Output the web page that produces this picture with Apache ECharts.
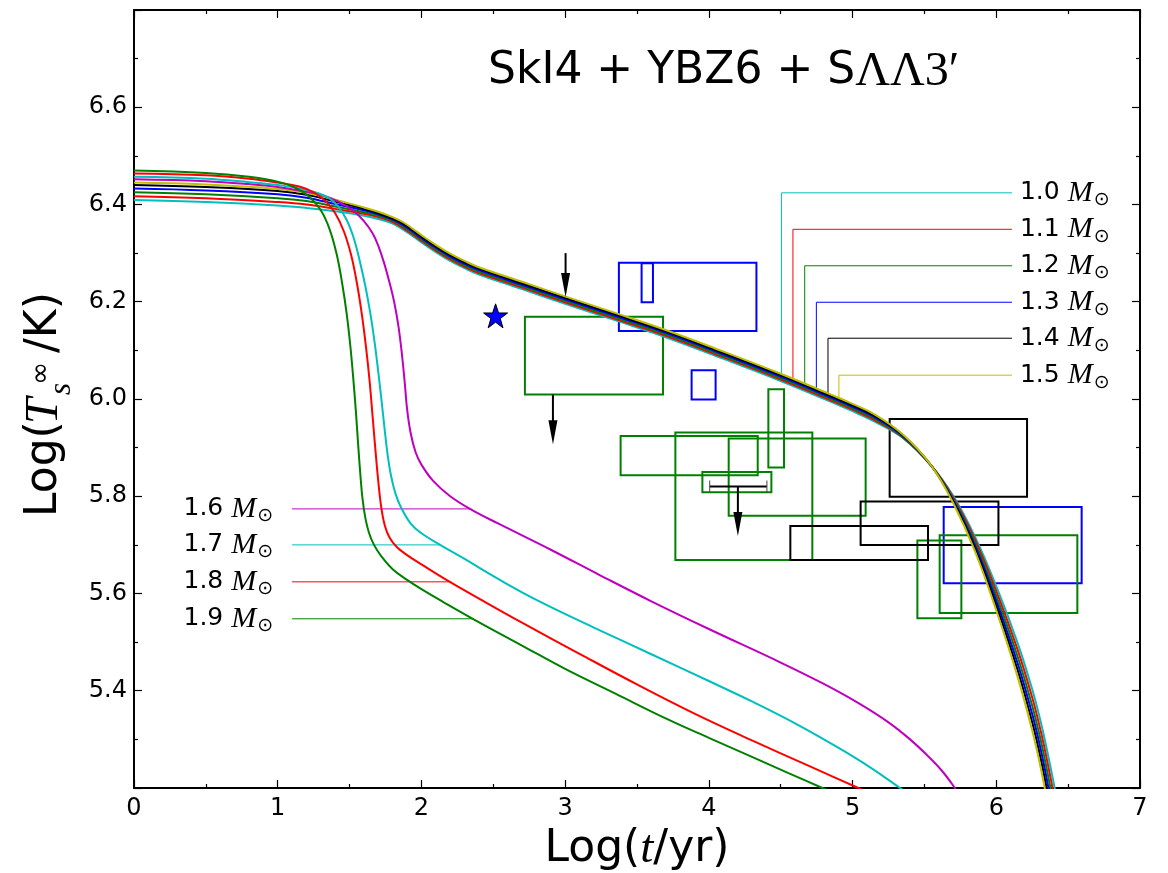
<!DOCTYPE html>
<html>
<head>
<meta charset="utf-8">
<title>SkI4 + YBZ6 + SΛΛ3′ cooling curves</title>
<style>
  html, body { margin: 0; padding: 0; background: #fff; }
  #chart { width: 1168px; height: 873px; }
</style>
</head>
<body>
<div id="chart"></div>
<script src="https://cdn.jsdelivr.net/npm/echarts@6.0.0/dist/echarts.min.js"></script>
<script>
// cooling curves, [log t, log Ts]
var m10 = [[0, 6.409], [0.5, 6.405], [1.0, 6.398], [1.2, 6.393], [1.4, 6.386], [1.6, 6.377], [1.7, 6.370], [1.8, 6.361], [1.87, 6.349], [1.94, 6.335], [2.0, 6.322], [2.1, 6.302], [2.2, 6.284], [2.3, 6.269], [2.4, 6.256], [2.7, 6.226], [3.0, 6.196], [3.4, 6.157], [3.7, 6.127], [4.0, 6.094], [4.5, 6.037], [4.85, 5.994], [5.0, 5.975], [5.15, 5.954], [5.35, 5.920], [5.55, 5.862], [5.7, 5.801], [5.85, 5.718], [6.0, 5.615], [6.15, 5.497], [6.25, 5.403], [6.31, 5.335], [6.36, 5.268], [6.45, 5.135]];
var m11 = [[0, 6.417], [0.5, 6.413], [1.0, 6.405], [1.2, 6.400], [1.4, 6.391], [1.6, 6.381], [1.7, 6.374], [1.8, 6.364], [1.87, 6.352], [1.94, 6.338], [2.0, 6.325], [2.1, 6.305], [2.2, 6.287], [2.3, 6.272], [2.4, 6.259], [2.7, 6.229], [3.0, 6.199], [3.4, 6.160], [3.7, 6.130], [4.0, 6.097], [4.5, 6.040], [4.85, 5.997], [5.0, 5.978], [5.15, 5.957], [5.35, 5.921], [5.55, 5.862], [5.7, 5.798], [5.85, 5.712], [6.0, 5.605], [6.15, 5.483], [6.25, 5.386], [6.31, 5.316], [6.36, 5.247], [6.45, 5.110]];
var m12 = [[0, 6.425], [0.5, 6.421], [1.0, 6.413], [1.2, 6.407], [1.4, 6.396], [1.6, 6.384], [1.7, 6.377], [1.8, 6.367], [1.87, 6.355], [1.94, 6.341], [2.0, 6.328], [2.1, 6.308], [2.2, 6.290], [2.3, 6.275], [2.4, 6.262], [2.7, 6.232], [3.0, 6.202], [3.4, 6.163], [3.7, 6.133], [4.0, 6.100], [4.5, 6.043], [4.85, 6.000], [5.0, 5.981], [5.15, 5.960], [5.35, 5.922], [5.55, 5.862], [5.7, 5.795], [5.85, 5.706], [6.0, 5.595], [6.15, 5.469], [6.25, 5.369], [6.31, 5.297], [6.36, 5.226], [6.45, 5.085]];
var m13 = [[0, 6.433], [0.5, 6.429], [1.0, 6.421], [1.2, 6.414], [1.4, 6.401], [1.6, 6.388], [1.7, 6.380], [1.8, 6.369], [1.87, 6.358], [1.94, 6.344], [2.0, 6.331], [2.1, 6.311], [2.2, 6.293], [2.3, 6.278], [2.4, 6.265], [2.7, 6.235], [3.0, 6.205], [3.4, 6.166], [3.7, 6.136], [4.0, 6.103], [4.5, 6.046], [4.85, 6.003], [5.0, 5.984], [5.15, 5.963], [5.35, 5.924], [5.55, 5.862], [5.7, 5.792], [5.85, 5.700], [6.0, 5.585], [6.15, 5.455], [6.25, 5.352], [6.31, 5.278], [6.36, 5.205], [6.45, 5.060]];
var m14 = [[0, 6.440], [0.5, 6.436], [1.0, 6.428], [1.2, 6.420], [1.4, 6.406], [1.6, 6.391], [1.7, 6.382], [1.8, 6.371], [1.87, 6.361], [1.94, 6.347], [2.0, 6.334], [2.1, 6.314], [2.2, 6.296], [2.3, 6.281], [2.4, 6.268], [2.7, 6.238], [3.0, 6.208], [3.4, 6.169], [3.7, 6.139], [4.0, 6.106], [4.5, 6.049], [4.85, 6.006], [5.0, 5.987], [5.15, 5.966], [5.35, 5.926], [5.55, 5.862], [5.7, 5.789], [5.85, 5.694], [6.0, 5.575], [6.15, 5.441], [6.25, 5.335], [6.31, 5.259], [6.36, 5.184], [6.45, 5.035]];
var m15 = [[0, 6.445], [0.5, 6.441], [1.0, 6.432], [1.2, 6.424], [1.4, 6.410], [1.6, 6.394], [1.7, 6.385], [1.8, 6.374], [1.87, 6.364], [1.94, 6.350], [2.0, 6.337], [2.1, 6.317], [2.2, 6.299], [2.3, 6.284], [2.4, 6.271], [2.7, 6.241], [3.0, 6.211], [3.4, 6.172], [3.7, 6.142], [4.0, 6.109], [4.5, 6.052], [4.85, 6.009], [5.0, 5.990], [5.15, 5.969], [5.35, 5.927], [5.55, 5.862], [5.7, 5.786], [5.85, 5.688], [6.0, 5.565], [6.15, 5.427], [6.25, 5.318], [6.31, 5.240], [6.36, 5.163], [6.45, 5.010]];
var m16 = [[0, 6.452], [0.5, 6.448], [0.8, 6.442], [1.0, 6.436], [1.2, 6.426], [1.3, 6.420], [1.43, 6.405], [1.53, 6.386], [1.60, 6.366], [1.66, 6.341], [1.70, 6.315], [1.74, 6.280], [1.78, 6.237], [1.81, 6.200], [1.84, 6.150], [1.865, 6.090], [1.885, 6.030], [1.90, 5.980], [1.925, 5.930], [1.96, 5.890], [2.0, 5.865], [2.08, 5.832], [2.2, 5.800], [2.35, 5.772], [2.54, 5.743], [2.9, 5.690], [3.24, 5.638], [3.6, 5.584], [4.0, 5.527], [4.5, 5.458], [4.8, 5.414], [5.05, 5.373], [5.25, 5.335], [5.4, 5.300], [5.52, 5.267], [5.62, 5.236], [5.70, 5.205], [5.75, 5.182]];
var m17 = [[0, 6.457], [0.5, 6.453], [0.8, 6.446], [1.0, 6.440], [1.2, 6.430], [1.34, 6.416], [1.42, 6.396], [1.48, 6.368], [1.53, 6.330], [1.57, 6.285], [1.61, 6.232], [1.645, 6.175], [1.675, 6.115], [1.70, 6.055], [1.725, 5.990], [1.745, 5.935], [1.765, 5.885], [1.79, 5.840], [1.82, 5.805], [1.86, 5.776], [1.93, 5.742], [2.0, 5.724], [2.13, 5.700], [2.3, 5.671], [2.54, 5.629], [2.8, 5.587], [3.2, 5.530], [3.6, 5.475], [4.0, 5.420], [4.3, 5.378], [4.6, 5.333], [4.9, 5.283], [5.12, 5.243], [5.33, 5.200], [5.45, 5.175]];
var m18 = [[0, 6.464], [0.5, 6.460], [0.8, 6.453], [1.0, 6.445], [1.15, 6.437], [1.25, 6.425], [1.33, 6.408], [1.40, 6.382], [1.46, 6.345], [1.51, 6.297], [1.55, 6.240], [1.585, 6.175], [1.615, 6.105], [1.64, 6.035], [1.66, 5.965], [1.68, 5.895], [1.70, 5.830], [1.72, 5.778], [1.745, 5.740], [1.78, 5.714], [1.83, 5.695], [1.9, 5.679], [2.0, 5.660], [2.18, 5.627], [2.41, 5.588], [2.7, 5.540], [3.1, 5.476], [3.5, 5.413], [3.9, 5.353], [4.3, 5.298], [4.7, 5.245], [5.04, 5.200], [5.15, 5.185]];
var m19 = [[0, 6.470], [0.5, 6.465], [0.8, 6.457], [1.0, 6.447], [1.12, 6.435], [1.22, 6.416], [1.30, 6.388], [1.36, 6.350], [1.41, 6.298], [1.45, 6.235], [1.48, 6.175], [1.505, 6.110], [1.525, 6.045], [1.545, 5.970], [1.56, 5.905], [1.575, 5.845], [1.59, 5.795], [1.61, 5.755], [1.635, 5.725], [1.67, 5.700], [1.72, 5.677], [1.8, 5.650], [1.9, 5.628], [2.0, 5.609], [2.15, 5.583], [2.37, 5.546], [2.7, 5.493], [3.0, 5.445], [3.35, 5.394], [3.7, 5.343], [4.0, 5.303], [4.3, 5.264], [4.55, 5.231], [4.79, 5.200], [4.9, 5.185]];

var massNames = ['1.0', '1.1', '1.2', '1.3', '1.4', '1.5', '1.6', '1.7', '1.8', '1.9'];

// leader lines to the mass labels
var leadRight = [
  [[4.505, 6.037], [4.505, 6.424], [6.109, 6.424]],
  [[4.585, 6.030], [4.585, 6.349], [6.109, 6.349]],
  [[4.667, 6.022], [4.667, 6.274], [6.109, 6.274]],
  [[4.748, 6.016], [4.748, 6.199], [6.109, 6.199]],
  [[4.829, 6.009], [4.829, 6.125], [6.109, 6.125]],
  [[4.905, 6.002], [4.905, 6.049], [6.109, 6.049]]
];
var leadLeft = [
  [[1.10, 5.774], [2.34, 5.774]],
  [[1.10, 5.700], [2.13, 5.700]],
  [[1.10, 5.624], [2.20, 5.624]],
  [[1.10, 5.548], [2.36, 5.548]]
];

// observation boxes [t1, t2, T1, T2]
var blueBoxes = [[3.374, 4.331, 6.140, 6.280], [3.532, 3.611, 6.199, 6.279], [3.880, 4.047, 5.999, 6.059], [5.634, 6.594, 5.621, 5.778]];
var greenBoxes = [[2.720, 3.681, 6.009, 6.169], [4.414, 4.523, 5.859, 6.020], [3.386, 4.340, 5.843, 5.924], [3.767, 4.720, 5.669, 5.931], [4.138, 5.091, 5.760, 5.919], [3.955, 4.435, 5.808, 5.850], [5.451, 5.757, 5.549, 5.709], [5.606, 6.564, 5.560, 5.720]];
var blackBoxes = [[5.258, 6.214, 5.799, 5.959], [5.056, 6.015, 5.700, 5.789], [4.567, 5.525, 5.669, 5.739]];
// upper limits [t, from, to]
var limitArrows = [[3.003, 6.300, 6.210], [2.915, 6.009, 5.907], [4.202, 5.820, 5.718]];
// age range bar [t1, t2, T]
var ageBars = [[4.006, 4.404, 5.820]];
var starPoint = [[2.516, 6.171]];

var xTicks = [0, 1, 2, 3, 4, 5, 6, 7];
var yTicks = [5.4, 5.6, 5.8, 6.0, 6.2, 6.4, 6.6];

var curves = [m10, m11, m12, m13, m14, m15, m16, m17, m18, m19];
var colors = ['#00bfbf', '#ff0000', '#008000', '#0000ff', '#000000', '#bfbf00', '#bf00bf', '#00bfbf', '#ff0000', '#008000'];

var chart = echarts.init(document.getElementById('chart'));

var labelRich = {
  n: { fontFamily: 'DejaVu Sans', fontSize: 25, color: '#000', lineHeight: 34, verticalAlign: 'middle' },
  m: { fontFamily: 'Liberation Serif', fontStyle: 'italic', fontSize: 30, color: '#000', lineHeight: 34, verticalAlign: 'middle' },
  s: { fontFamily: 'DejaVu Sans', fontSize: 19, color: '#000', lineHeight: 12, verticalAlign: 'bottom', padding: [0, 0, 0, 1] }
};
function massLabel(name) {
  return '{n|' + name + ' }{m|M}{s|⊙}';
}

function boxSeries(data, color) {
  return {
    type: 'custom',
    data: data,
    z: 2,
    silent: true,
    renderItem: function (params, api) {
      var a = api.coord([api.value(0), api.value(3)]);
      var b = api.coord([api.value(1), api.value(2)]);
      return {
        type: 'rect',
        shape: { x: a[0], y: a[1], width: b[0] - a[0], height: b[1] - a[1] },
        style: { fill: null, stroke: color, lineWidth: 2 }
      };
    }
  };
}

var series = [];
series.push(boxSeries(blueBoxes, '#0000ff'));
series.push(boxSeries(greenBoxes, '#008000'));
series.push(boxSeries(blackBoxes, '#000000'));

// leaders
leadRight.forEach(function (d, i) {
  series.push({
    type: 'line', data: d, showSymbol: false, z: 1, silent: true,
    lineStyle: { color: colors[i], width: 1 }
  });
});
leadLeft.forEach(function (d, i) {
  series.push({
    type: 'line', data: d, showSymbol: false, z: 1, silent: true,
    lineStyle: { color: colors[i + 6], width: 1 }
  });
});

// curves
curves.forEach(function (d, i) {
  series.push({
    name: massNames[i],
    type: 'line',
    data: d,
    showSymbol: false,
    smooth: 0.4,
    clip: true,
    z: 3,
    lineStyle: { color: colors[i], width: 2 }
  });
});

// mass labels
function labelSeries(points, names, pos, dist) {
  return {
    type: 'scatter', symbolSize: 0, z: 5, silent: true,
    itemStyle: { opacity: 1 },
    data: points.map(function (p, i) { return { value: p, name: names[i] }; }),
    label: {
      show: true, position: pos, distance: dist, color: '#000', opacity: 1,
      formatter: function (p) { return massLabel(p.name); },
      rich: labelRich
    }
  };
}
series.push(labelSeries(leadRight.map(function (d) { return d[2]; }), massNames.slice(0, 6), 'right', 8));
series.push(labelSeries(leadLeft.map(function (d) { return d[0]; }), massNames.slice(6), 'left', 19));

// upper-limit arrows
series.push({
  type: 'custom', data: limitArrows, z: 4, silent: true,
  renderItem: function (params, api) {
    var p0 = api.coord([api.value(0), api.value(1)]);
    var p1 = api.coord([api.value(0), api.value(2)]);
    var head = 24;
    return {
      type: 'group',
      children: [
        { type: 'line', shape: { x1: p0[0], y1: p0[1], x2: p1[0], y2: p1[1] - head + 2 }, style: { stroke: '#000', lineWidth: 2 } },
        { type: 'polygon', shape: { points: [[p1[0] - 4.5, p1[1] - head], [p1[0] + 4.5, p1[1] - head], [p1[0], p1[1]]] }, style: { fill: '#000' } }
      ]
    };
  }
});

// age range bar
series.push({
  type: 'custom', data: ageBars, z: 4, silent: true,
  renderItem: function (params, api) {
    var a = api.coord([api.value(0), api.value(2)]);
    var b = api.coord([api.value(1), api.value(2)]);
    return {
      type: 'group',
      children: [
        { type: 'line', shape: { x1: a[0], y1: a[1], x2: b[0], y2: b[1] }, style: { stroke: '#000', lineWidth: 2 } },
        { type: 'line', shape: { x1: a[0], y1: a[1] - 6, x2: a[0], y2: a[1] + 6 }, style: { stroke: '#444', lineWidth: 1 } },
        { type: 'line', shape: { x1: b[0], y1: b[1] - 6, x2: b[0], y2: b[1] + 6 }, style: { stroke: '#444', lineWidth: 1 } }
      ]
    };
  }
});

// star
series.push({
  type: 'scatter', data: starPoint, z: 6, silent: true,
  symbol: 'path://M50,2 L61.8,36.2 L97.6,36.2 L68.6,57.4 L79.4,92 L50,70.6 L20.6,92 L31.4,57.4 L2.4,36.2 L38.2,36.2 Z',
  symbolSize: 24,
  itemStyle: { color: '#0000ff', borderColor: '#000', borderWidth: 1, opacity: 1 }
});

var axisLine = { show: true, onZero: false, lineStyle: { color: '#000', width: 2 } };
var tick = { show: true, inside: true, length: 8, lineStyle: { color: '#000', width: 1.2 } };
var minor = { show: true, splitNumber: 2, length: 4, lineStyle: { color: '#000', width: 1.2 } };

var option = {
  animation: false,
  backgroundColor: '#fff',
  grid: { left: 134, right: 28, top: 10, bottom: 85, containLabel: false, outerBoundsMode: 'none' },
  title: {
    text: '{a|SkI4 + YBZ6 + S}{b|ΛΛ3′}',
    left: 488, top: 46, padding: 0,
    textStyle: {
      fontWeight: 'normal',
      rich: {
        a: { fontFamily: 'DejaVu Sans', fontWeight: 'normal', fontSize: 44, color: '#000', lineHeight: 52 },
        b: { fontFamily: 'Liberation Serif', fontWeight: 'normal', fontSize: 48, color: '#000', lineHeight: 52 }
      }
    }
  },
  xAxis: [{
    type: 'value', min: 0, max: 7, interval: 1, position: 'bottom',
    axisLine: axisLine, axisTick: tick, minorTick: minor, splitLine: { show: false },
    axisLabel: {
      fontFamily: 'DejaVu Sans', fontSize: 24, color: '#000', margin: 9,
      formatter: function (v) { return xTicks.indexOf(v) >= 0 ? String(v) : ''; }
    },
    name: '{a|Log(}{i|t}{a|/yr)}', nameLocation: 'middle', nameGap: 33,
    nameTextStyle: {
      rich: {
        a: { fontFamily: 'DejaVu Sans', fontSize: 44, color: '#000' },
        i: { fontFamily: 'Liberation Serif', fontStyle: 'italic', fontSize: 47, color: '#000' }
      }
    }
  }, {
    type: 'value', min: 0, max: 7, interval: 1, position: 'top',
    axisLine: axisLine, axisTick: tick, minorTick: minor, splitLine: { show: false },
    axisLabel: { show: false }
  }],
  yAxis: [{
    type: 'value', min: 5.2, max: 6.8, interval: 0.2, position: 'left',
    axisLine: axisLine, axisTick: tick, minorTick: minor, splitLine: { show: false },
    axisLabel: {
      fontFamily: 'DejaVu Sans', fontSize: 24, color: '#000', margin: 7,
      showMinLabel: false, showMaxLabel: false,
      formatter: function (v) {
        var s = v.toFixed(1);
        return yTicks.indexOf(Number(s)) >= 0 ? s : '';
      }
    }
  }, {
    type: 'value', min: 5.2, max: 6.8, interval: 0.2, position: 'right',
    axisLine: axisLine, axisTick: tick, minorTick: minor, splitLine: { show: false },
    axisLabel: { show: false }
  }],
  graphic: [{
    type: 'group', x: 45, y: 404, rotation: Math.PI / 2, silent: true,
    children: [
      { type: 'text', x: -113, y: 0, style: { text: 'Log(', font: '44px "DejaVu Sans"', fill: '#000', align: 'left', verticalAlign: 'middle' } },
      { type: 'text', x: -20, y: 0, style: { text: 'T', font: 'italic 47px "Liberation Serif"', fill: '#000', align: 'left', verticalAlign: 'middle' } },
      { type: 'text', x: 19, y: -3, style: { text: '∞', font: '28px "DejaVu Sans"', fill: '#000', align: 'left', verticalAlign: 'middle' } },
      { type: 'text', x: 9, y: 17, style: { text: 's', font: 'italic 31px "Liberation Serif"', fill: '#000', align: 'left', verticalAlign: 'middle' } },
      { type: 'text', x: 51, y: 0, style: { text: '/K)', font: '44px "DejaVu Sans"', fill: '#000', align: 'left', verticalAlign: 'middle' } }
    ]
  }],
  series: series
};

chart.setOption(option);
</script>
</body>
</html>
